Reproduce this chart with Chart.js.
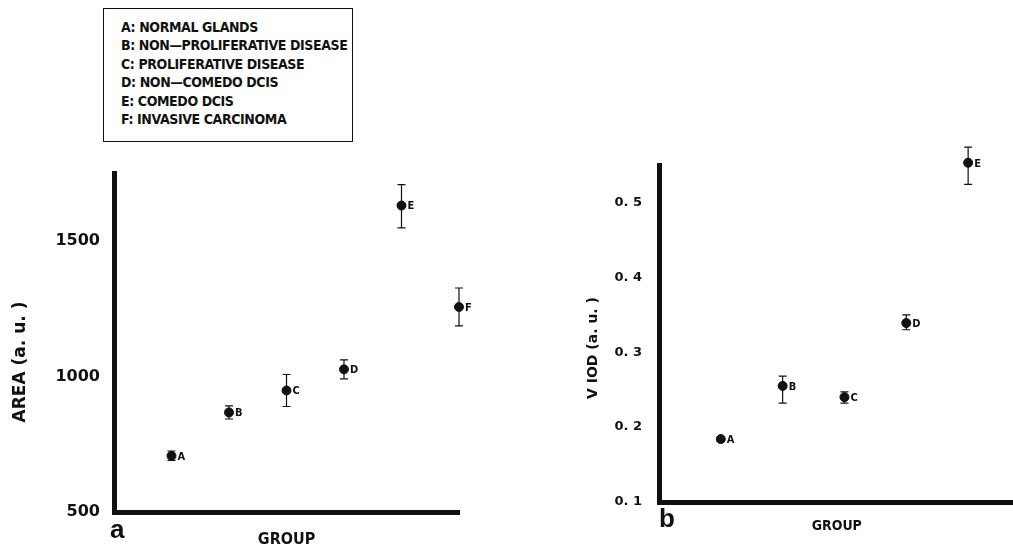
<!DOCTYPE html>
<html>
<head>
  <meta charset="UTF-8">
  <title>Area and VIOD by group</title>
  <script src="https://cdn.jsdelivr.net/npm/chart.js"></script>
  <style>
    body {
      margin: 0;
      background: #fff;
      width: 1013px;
      height: 550px;
      position: relative;
      overflow: hidden;
      font-family: "DejaVu Sans Condensed", "DejaVu Sans", sans-serif;
    }
    #legend {
      position: absolute;
      left: 103px;
      top: 8px;
      width: 250px;
      height: 134px;
      box-sizing: border-box;
      border: 1.5px solid #111;
      padding: 9px 0 0 17px;
      font-weight: bold;
      font-size: 14px;
      letter-spacing: -0.4px;
      line-height: 18.4px;
      color: #111;
      white-space: nowrap;
    }
    .panel { position: absolute; }
  </style>
</head>
<body>
  <div id="legend"></div>
  <div class="panel" style="left:0;top:150px;width:480px;height:400px"><canvas id="chartA"></canvas></div>
  <div class="panel" style="left:560px;top:140px;width:460px;height:410px"><canvas id="chartB"></canvas></div>

  <script>
    // groups and their names
    const groups = ['A', 'B', 'C', 'D', 'E', 'F'];
    const groupNames = ['NORMAL GLANDS', 'NON\u2014PROLIFERATIVE DISEASE', 'PROLIFERATIVE DISEASE',
      'NON\u2014COMEDO DCIS', 'COMEDO DCIS', 'INVASIVE CARCINOMA'];

    // panel a: AREA (a. u.)
    const areaMean = [707, 867, 948, 1026, 1630, 1256];
    const areaLow  = [690, 843, 889, 991, 1548, 1186];
    const areaHigh = [725, 891, 1007, 1061, 1707, 1326];
    const areaTicks = [500, 1000, 1500];

    // panel b: VIOD (a. u.), groups A-E only
    const viodMean = [0.184, 0.255, 0.240, 0.339, 0.553];
    const viodLow  = [0.181, 0.232, 0.232, 0.330, 0.524];
    const viodHigh = [0.187, 0.268, 0.247, 0.350, 0.574];
    const viodTicks = [0.1, 0.2, 0.3, 0.4, 0.5];

    document.getElementById('legend').innerHTML =
      groups.map((g, i) => '<div>' + g + ': ' + groupNames[i] + '</div>').join('');

    // error bars + letter next to each point
    const errorBars = {
      id: 'errorBars',
      beforeDatasetsDraw(chart, args, opts) {
        const ctx = chart.ctx, xs = chart.scales.x, ys = chart.scales.y;
        ctx.save();
        ctx.strokeStyle = '#111';
        ctx.lineWidth = 1.2;
        opts.low.forEach((lo, i) => {
          const x = xs.getPixelForValue(i + 1);
          const y1 = ys.getPixelForValue(lo), y2 = ys.getPixelForValue(opts.high[i]);
          ctx.beginPath();
          ctx.moveTo(x, y1); ctx.lineTo(x, y2);
          ctx.moveTo(x - 4, y1); ctx.lineTo(x + 4, y1);
          ctx.moveTo(x - 4, y2); ctx.lineTo(x + 4, y2);
          ctx.stroke();
        });
        ctx.restore();
      },
      afterDatasetsDraw(chart, args, opts) {
        const ctx = chart.ctx;
        ctx.save();
        ctx.fillStyle = '#111';
        ctx.font = 'bold 11px "DejaVu Sans Condensed", "DejaVu Sans"';
        ctx.textBaseline = 'middle';
        chart.getDatasetMeta(0).data.forEach((pt, i) => {
          ctx.fillText(groups[i], pt.x + 6, pt.y + 1);
        });
        // rotated y title and panel letter
        ctx.font = 'bold ' + opts.titleSize + 'px "DejaVu Sans"';
        ctx.textAlign = 'center';
        ctx.translate(opts.titleX, opts.titleY);
        ctx.rotate(-Math.PI / 2);
        ctx.fillText(opts.title, 0, 0);
        ctx.setTransform(1, 0, 0, 1, 0, 0);
        ctx.font = 'bold 26px "Liberation Sans", Arial';
        ctx.textAlign = 'left';
        ctx.fillText(opts.letter, opts.letterX, opts.letterY);
        ctx.restore();
      }
    };

    function makeChart(id, mean, low, high, ticks, cfg) {
      new Chart(document.getElementById(id), {
        type: 'scatter',
        data: {
          datasets: [{
            data: mean.map((v, i) => ({ x: i + 1, y: v })),
            backgroundColor: '#111',
            borderColor: '#111',
            pointRadius: 4.5,
            pointHoverRadius: 4.5,
            clip: false
          }]
        },
        options: {
          responsive: true,
          maintainAspectRatio: false,
          animation: false,
          events: [],
          layout: { padding: { top: cfg.padTop, right: cfg.padRight, left: 0, bottom: 0 } },
          plugins: {
            legend: { display: false },
            tooltip: { enabled: false },
            errorBars: {
              low: low, high: high,
              title: cfg.title, titleSize: cfg.titleSize, titleX: cfg.titleX, titleY: cfg.titleY,
              letter: cfg.letter, letterX: cfg.letterX, letterY: cfg.letterY
            }
          },
          scales: {
            x: {
              type: 'linear',
              min: 0,
              max: cfg.xMax,
              grid: { display: false },
              border: { display: true, color: '#111', width: 5 },
              ticks: { display: false },
              title: {
                display: true,
                text: 'GROUP',
                color: '#111',
                font: { family: '"DejaVu Sans Condensed", "DejaVu Sans"', size: cfg.groupSize, weight: 'bold' },
                padding: { top: 0, bottom: cfg.groupPad }
              },
              afterFit: s => { s.height = cfg.xHeight; }
            },
            y: {
              min: cfg.yMin,
              max: cfg.yMax,
              grid: { display: false },
              border: { display: true, color: '#111', width: 5 },
              afterBuildTicks: s => { s.ticks = ticks.map(v => ({ value: v })); },
              ticks: {
                color: '#111',
                padding: cfg.tickPad,
                font: { family: '"DejaVu Sans"', size: cfg.tickSize, weight: 'bold' },
                callback: cfg.fmt
              },
              afterFit: s => { s.width = cfg.yWidth; }
            }
          }
        },
        plugins: [errorBars]
      });
    }

    makeChart('chartA', areaMean, areaLow, areaHigh, areaTicks, {
      padTop: 23, padRight: 21, xMax: 6, xHeight: 38, yWidth: 114,
      yMin: 500, yMax: 1750, tickPad: 6, tickSize: 16, fmt: v => String(v),
      groupSize: 16, groupPad: 1,
      title: 'AREA (a. u. )', titleSize: 17, titleX: 21, titleY: 212,
      letter: 'a', letterX: 110, letterY: 381
    });

    makeChart('chartB', viodMean, viodLow, viodHigh, viodTicks, {
      padTop: 25, padRight: 0, xMax: 5.75, xHeight: 48, yWidth: 99,
      yMin: 0.1, yMax: 0.55, tickPad: 9, tickSize: 13, fmt: v => v.toFixed(1).replace('.', '. '),
      groupSize: 14, groupPad: 15,
      title: 'V IOD (a. u. )', titleSize: 14, titleX: 33, titleY: 208,
      letter: 'b', letterX: 99, letterY: 380
    });
  </script>
</body>
</html>
